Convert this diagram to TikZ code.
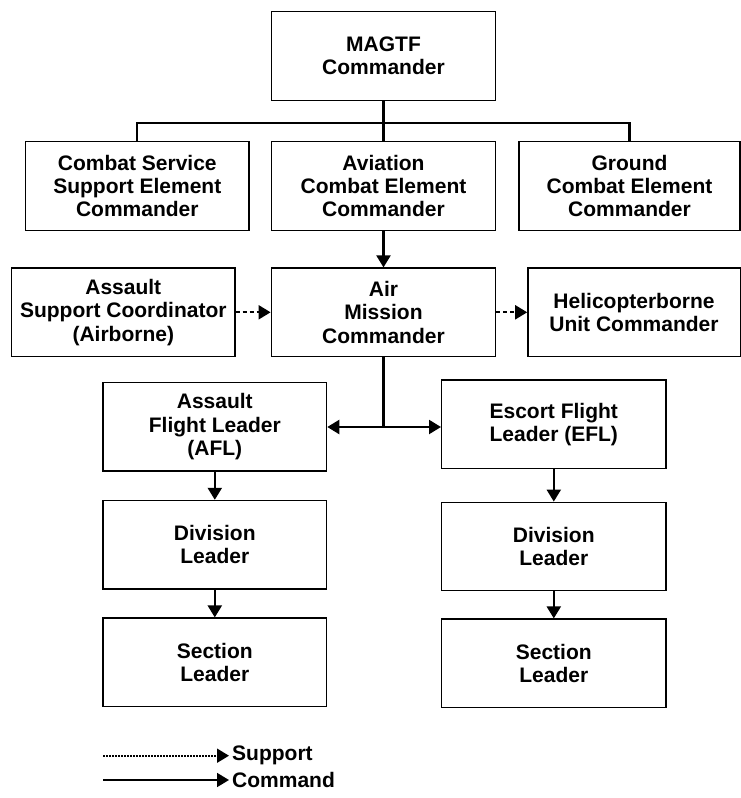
\documentclass[tikz,border=0pt]{standalone}
\usepackage{fontspec}
\setmainfont{Liberation Sans}
\usepackage{tikz}
\usetikzlibrary{arrows.meta}
\usetikzlibrary{calc}

\begin{document}
\begin{tikzpicture}[x=1pt,y=-1pt,
	box/.style={draw,line width=1.3pt,minimum height=88.5pt,align=center,inner sep=2pt,font=\bfseries\fontsize{21}{23.3}\selectfont},
	legend/.style={anchor=west,inner sep=0pt,font=\bfseries\fontsize{21}{23.3}\selectfont},
	cmd/.style={line width=2.2pt},
	sup/.style={line width=2pt,dash pattern=on 4pt off 3pt},
	dots/.style={line width=1.8pt,dash pattern=on 1.5pt off 1.5pt},
	>={Triangle[length=12pt,width=14pt]}]
	\useasboundingbox (0,0) rectangle (741,798);

	% top of the chart
	\node [box,minimum width=224pt] (magtf) at (383.5,56) {MAGTF\\Commander};
	\node [box,minimum width=223.3pt] (csse) at (137.3,186) {Combat Service\\Support Element\\Commander};
	\node [box,minimum width=224pt] (ace) at (383.5,186) {Aviation\\Combat Element\\Commander};
	\node [box,minimum width=221pt] (gce) at (629.5,186) {Ground\\Combat Element\\Commander};

	\node [box,minimum width=223.3pt] (asc) at (123.3,312.3) {Assault\\Support Coordinator\\(Airborne)};
	\node [box,minimum width=224.5pt] (amc) at (383.5,312.3) {Air\\Mission\\Commander};
	\node [box,minimum width=212.3pt] (huc) at (634,312.3) {Helicopterborne\\Unit Commander};

	% flights
	\node [box,minimum width=223.7pt] (afl) at (214.8,426.7) {Assault\\Flight Leader\\(AFL)};
	\node [box,minimum width=224.3pt] (efl) at (553.8,424.3) {Escort Flight\\Leader (EFL)};
	\node [box,minimum width=223.7pt] (divl) at (214.8,544.7) {Division\\Leader};
	\node [box,minimum width=224.3pt] (divr) at (553.8,546.5) {Division\\Leader};
	\node [box,minimum width=223.7pt] (secl) at (214.8,662.3) {Section\\Leader};
	\node [box,minimum width=224.3pt] (secr) at (553.8,663.3) {Section\\Leader};

	\coordinate [] (bar) at (383.5,123.3);
	\coordinate [] (split) at (383.5,427);

	\draw [cmd] (magtf.south) -- (ace.north);
	\draw [cmd] (csse.north) |- (bar) -| (gce.north);
	\draw [cmd,->] (ace.south) -- (amc.north);
	\draw [sup,->] (asc.east) -- (amc.west);
	\draw [sup,->] (amc.east) -- (amc.east -| huc.west);
	\draw [cmd] (amc.south) -- (split);
	\draw [cmd,<->] (afl.east |- split) -- (efl.west |- split);
	\draw [cmd,->] (afl.south) -- (divl.north);
	\draw [cmd,->] (divl.south) -- (secl.north);
	\draw [cmd,->] (efl.south) -- (divr.north);
	\draw [cmd,->] (divr.south) -- (secr.north);

	% legend
	\node [legend] (suplabel) at (232,755.7) {Support};
	\node [legend] (cmdlabel) at (232,780) {Command};
	\coordinate [] (supstart) at (103,755.7);
	\coordinate [] (cmdstart) at (103,780);
	\draw [dots,->,shorten >=3pt] (supstart) -- (suplabel.west);
	\draw [cmd,line width=1.8pt,->,shorten >=3pt] (cmdstart) -- (cmdlabel.west);

\end{tikzpicture}
\end{document}
